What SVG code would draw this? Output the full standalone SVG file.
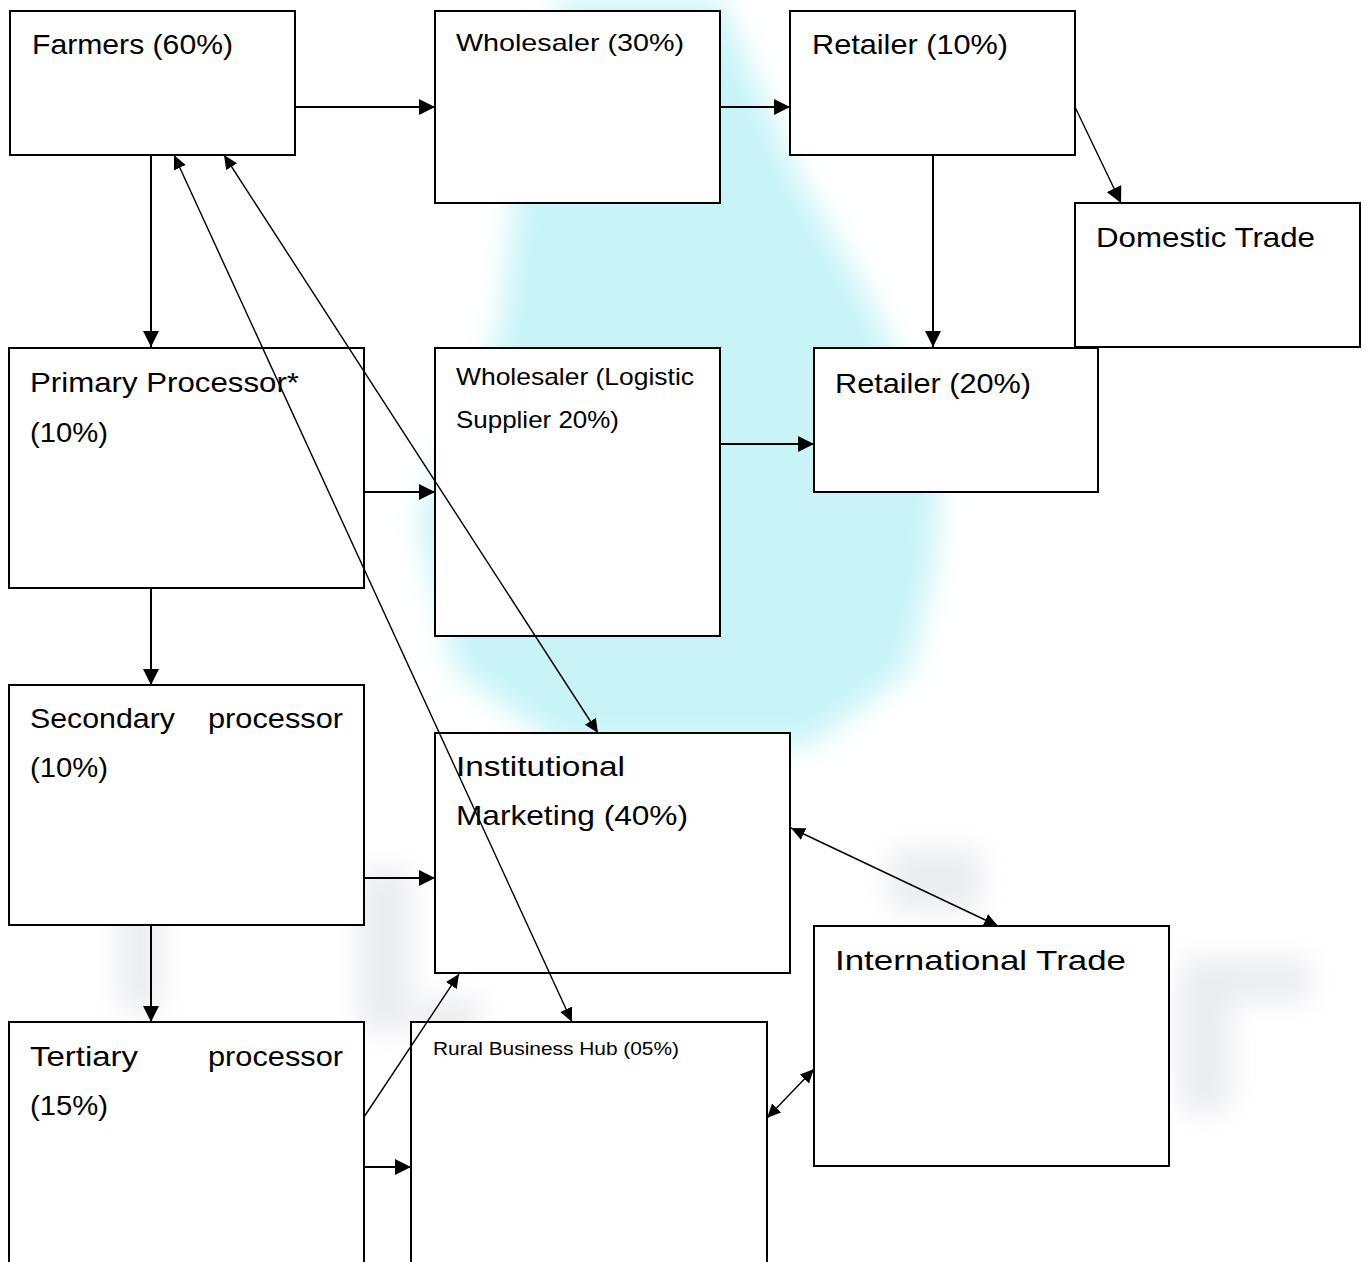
<svg xmlns="http://www.w3.org/2000/svg" width="1366" height="1262" viewBox="0 0 1366 1262">
<style>
.box{fill:#fff;stroke:#000;stroke-width:2}
.t{font-family:"Liberation Sans",Arial,sans-serif;fill:#000;font-size:28px}
.s{font-size:24px}
.c{fill:none;stroke:#000;stroke-width:2}
.d{fill:none;stroke:#000;stroke-width:1.4}
</style>
<defs>
<marker id="ah" markerUnits="userSpaceOnUse" markerWidth="16" markerHeight="16" refX="14" refY="7" orient="auto-start-reverse" viewBox="0 0 14 14">
<path d="M0,0 L14,7 L0,14 z" fill="#000"/>
</marker>
<marker id="ahs" markerUnits="userSpaceOnUse" markerWidth="14" markerHeight="14" refX="13" refY="6" orient="auto-start-reverse" viewBox="0 0 13 12">
<path d="M0,0 L13,6 L0,12 z" fill="#000"/>
</marker>
<filter id="blur" x="-20%" y="-20%" width="140%" height="140%"><feGaussianBlur stdDeviation="14"/></filter>
</defs>
<rect width="1366" height="1262" fill="#fff"/>
<g id="watermark">
<path d="M560,0 L720,0 L800,180 L870,300 L940,460 L935,560 L910,670 L810,745 L560,745 L455,670 L418,520 L500,330 L515,200 Z" fill="#c8f4f8" filter="url(#blur)"/>
<g fill="#d6d8e0" opacity="0.5" filter="url(#blur)">
<rect x="120" y="880" width="40" height="130"/>
<rect x="360" y="870" width="50" height="160"/>
<rect x="420" y="1000" width="60" height="40"/>
<rect x="890" y="850" width="90" height="60"/>
<rect x="1180" y="960" width="50" height="150"/>
<rect x="1230" y="960" width="80" height="40"/>
</g>
</g>
<g id="farmers"><rect class="box" x="10" y="11" width="285" height="144"/><text class="t" x="32" y="54" textLength="201" lengthAdjust="spacingAndGlyphs">Farmers (60%)</text></g>
<g id="wholesaler30"><rect class="box" x="435" y="11" width="285" height="192"/><text class="t s" x="456" y="51" textLength="228" lengthAdjust="spacingAndGlyphs">Wholesaler (30%)</text></g>
<g id="retailer10"><rect class="box" x="790" y="11" width="285" height="144"/><text class="t" x="812" y="54" textLength="196" lengthAdjust="spacingAndGlyphs">Retailer (10%)</text></g>
<g id="domestic"><rect class="box" x="1075" y="203" width="285" height="144"/><text class="t" x="1096" y="247" textLength="219" lengthAdjust="spacingAndGlyphs">Domestic Trade</text></g>
<g id="primary"><rect class="box" x="9" y="348" width="355" height="240"/><text class="t" x="30" y="392" textLength="269" lengthAdjust="spacingAndGlyphs">Primary Processor*</text><text class="t" x="30" y="442" textLength="78" lengthAdjust="spacingAndGlyphs">(10%)</text></g>
<g id="wholesalerLog"><rect class="box" x="435" y="348" width="285" height="288"/><text class="t s" x="456" y="385" textLength="238" lengthAdjust="spacingAndGlyphs">Wholesaler (Logistic</text><text class="t s" x="456" y="428" textLength="163" lengthAdjust="spacingAndGlyphs">Supplier 20%)</text></g>
<g id="retailer20"><rect class="box" x="814" y="348" width="284" height="144"/><text class="t" x="835" y="393" textLength="196" lengthAdjust="spacingAndGlyphs">Retailer (20%)</text></g>
<g id="secondary"><rect class="box" x="9" y="685" width="355" height="240"/><text class="t" x="30" y="728" textLength="145" lengthAdjust="spacingAndGlyphs">Secondary</text><text class="t" x="208" y="728" textLength="135" lengthAdjust="spacingAndGlyphs">processor</text><text class="t" x="30" y="777" textLength="78" lengthAdjust="spacingAndGlyphs">(10%)</text></g>
<g id="institutional"><rect class="box" x="435" y="733" width="355" height="240"/><text class="t" x="456" y="776" textLength="169" lengthAdjust="spacingAndGlyphs">Institutional</text><text class="t" x="456" y="825" textLength="232" lengthAdjust="spacingAndGlyphs">Marketing (40%)</text></g>
<g id="international"><rect class="box" x="814" y="926" width="355" height="240"/><text class="t" x="835" y="970" textLength="291" lengthAdjust="spacingAndGlyphs">International Trade</text></g>
<g id="tertiary"><rect class="box" x="9" y="1022" width="355" height="280"/><text class="t" x="30" y="1066" textLength="108" lengthAdjust="spacingAndGlyphs">Tertiary</text><text class="t" x="208" y="1066" textLength="135" lengthAdjust="spacingAndGlyphs">processor</text><text class="t" x="30" y="1115" textLength="78" lengthAdjust="spacingAndGlyphs">(15%)</text></g>
<g id="ruralhub"><rect class="box" x="411" y="1022" width="356" height="280"/><text class="t" x="433" y="1055" style="font-size:19px" textLength="246" lengthAdjust="spacingAndGlyphs">Rural Business Hub (05%)</text></g>
<g id="connectors">
<line class="c" x1="295" y1="107" x2="435" y2="107" marker-end="url(#ah)"/>
<line class="c" x1="720" y1="107" x2="790" y2="107" marker-end="url(#ah)"/>
<line class="d" x1="1075" y1="107" x2="1121" y2="203" marker-end="url(#ah)"/>
<line class="c" x1="933" y1="155" x2="933" y2="347" marker-end="url(#ah)"/>
<line class="c" x1="151" y1="155" x2="151" y2="347" marker-end="url(#ah)"/>
<line class="c" x1="364" y1="492" x2="435" y2="492" marker-end="url(#ah)"/>
<line class="c" x1="720" y1="444" x2="814" y2="444" marker-end="url(#ah)"/>
<line class="c" x1="151" y1="588" x2="151" y2="685" marker-end="url(#ah)"/>
<line class="c" x1="364" y1="878" x2="435" y2="878" marker-end="url(#ah)"/>
<line class="c" x1="151" y1="925" x2="151" y2="1022" marker-end="url(#ah)"/>
<line class="c" x1="364" y1="1167" x2="411" y2="1167" marker-end="url(#ah)"/>
<line class="d" x1="364" y1="1117" x2="459" y2="974" marker-end="url(#ahs)"/>
<line class="d" x1="174" y1="155" x2="572" y2="1022" marker-start="url(#ahs)" marker-end="url(#ahs)"/>
<line class="d" x1="224" y1="155" x2="598" y2="733" marker-start="url(#ahs)" marker-end="url(#ahs)"/>
<line class="d" x1="791" y1="828" x2="998" y2="926" marker-start="url(#ahs)" marker-end="url(#ahs)"/>
<line class="d" x1="767" y1="1118" x2="814" y2="1069" marker-start="url(#ahs)" marker-end="url(#ahs)"/>
</g>
</svg>
